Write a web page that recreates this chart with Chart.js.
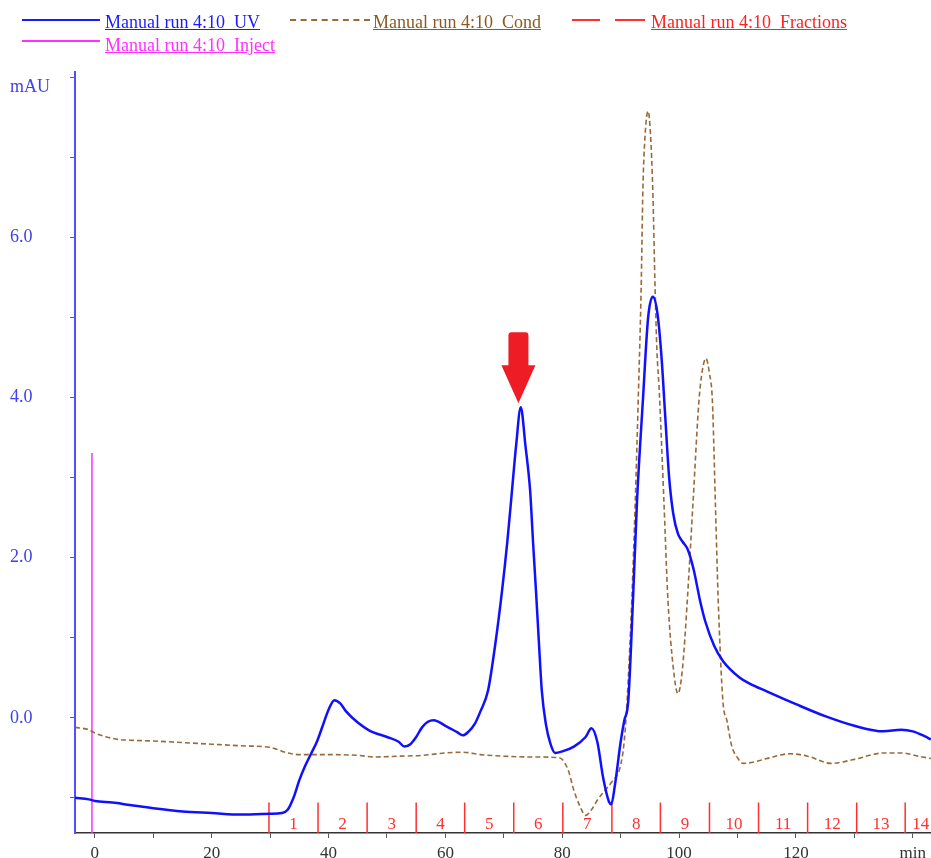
<!DOCTYPE html>
<html lang="en">
<head>
    <meta charset="UTF-8">
    <title>Manual run 4:10</title>
    <script src="https://cdn.jsdelivr.net/npm/chart.js"></script>
    <style>
        body { margin: 0; background: #fff; }
        .wrap { position: relative; width: 931px; height: 858px; overflow: hidden; }
        #chart { position: absolute; left: 0; top: 0; }
        .lg { position: absolute; font-family: "Liberation Serif", serif; font-size: 18px; text-decoration: underline; white-space: nowrap; line-height: 1; }
        .sw { position: absolute; height: 0; }
    </style>
</head>
<body>
<div class="wrap">
    <canvas id="chart" width="931" height="858"></canvas>

    <div class="sw" style="left:22px;top:19px;width:78px;border-top:2px solid #1a1aff"></div>
    <div class="lg" style="left:105px;top:13px;color:#1a1aff">Manual run 4:10_UV</div>

    <div class="sw" style="left:290px;top:19px;width:80px;border-top:2px dashed #9a6a3a"></div>
    <div class="lg" style="left:373px;top:13px;color:#8a5a22">Manual run 4:10_Cond</div>

    <div class="sw" style="left:572px;top:19px;width:28px;border-top:2px solid #ff3030"></div>
    <div class="sw" style="left:615px;top:19px;width:30px;border-top:2px solid #ff3030"></div>
    <div class="lg" style="left:651px;top:13px;color:#ff2020">Manual run 4:10_Fractions</div>

    <div class="sw" style="left:22px;top:40px;width:78px;border-top:2px solid #ff30ff"></div>
    <div class="lg" style="left:105px;top:36px;color:#ff30ff">Manual run 4:10_Inject</div>
</div>

<script>
// UV trace (min, mAU)
const uvTime = [-3.4, -1, 0, 3, 6, 10, 15, 20, 25, 30, 32, 33, 34, 35, 36, 37, 38, 39, 40, 41, 42, 43, 45, 47, 50, 52, 53, 54, 55, 56, 57, 58, 60, 62, 63, 64, 65, 66, 67.3, 68.5, 69.7, 70.6, 71.4, 72.1, 72.9, 73.7, 74.5, 75.0, 75.5, 76.0, 76.5, 77.2, 78, 78.8, 80, 82, 84, 85, 86, 87, 88, 88.4, 89, 90, 90.6, 91.3, 92.1, 92.8, 93.8, 94.7, 95.5, 96.3, 97, 97.6, 98.3, 99, 99.8, 100.6, 101.5, 102.5, 103.6, 104.5, 106, 107.5, 110.4, 112, 115, 120, 125, 130, 135, 138, 140, 142, 143.1];
const uvValue = [-1.0, -1.02, -1.04, -1.06, -1.09, -1.13, -1.17, -1.19, -1.21, -1.2, -1.19, -1.15, -1.0, -0.78, -0.6, -0.45, -0.3, -0.1, 0.1, 0.22, 0.18, 0.08, -0.06, -0.16, -0.24, -0.3, -0.36, -0.33, -0.24, -0.12, -0.05, -0.03, -0.1, -0.18, -0.22, -0.17, -0.08, 0.08, 0.34, 0.9, 1.59, 2.2, 2.84, 3.4, 3.88, 3.4, 2.84, 2.2, 1.59, 0.95, 0.34, -0.08, -0.33, -0.44, -0.42, -0.36, -0.24, -0.13, -0.3, -0.75, -1.05, -1.08, -0.85, -0.3, -0.04, 0.21, 1.46, 2.71, 3.96, 5.0, 5.26, 5.05, 4.5, 3.8, 3.0, 2.55, 2.3, 2.2, 2.1, 1.85, 1.46, 1.2, 0.9, 0.71, 0.5, 0.43, 0.33, 0.17, 0.02, -0.1, -0.17, -0.15, -0.17, -0.23, -0.27];

// Conductivity trace, drawn in the UV axis units
const condTime = [-3.4, -1, 0, 2, 4, 6, 10, 15, 20, 25, 30, 31, 33, 35, 40, 45, 48, 52, 56, 60, 63, 66, 70, 75, 79.5, 81, 82, 83, 84, 85, 86, 87.3, 88.5, 89.9, 90.6, 91.1, 91.9, 92.5, 93.0, 93.5, 93.8, 94.2, 94.7, 95.1, 95.5, 95.9, 96.2, 96.6, 97.4, 98.1, 99.0, 99.8, 100.6, 101.4, 102.4, 103.4, 104.0, 104.6, 105.2, 105.7, 106.2, 106.7, 107.5, 108.2, 109, 110, 111, 113, 115, 119, 122, 126, 130, 135, 138, 141, 143.1];
const condValue = [-0.12, -0.15, -0.19, -0.24, -0.27, -0.28, -0.29, -0.31, -0.33, -0.35, -0.37, -0.39, -0.44, -0.46, -0.46, -0.47, -0.49, -0.48, -0.47, -0.44, -0.43, -0.46, -0.48, -0.49, -0.5, -0.65, -0.91, -1.1, -1.22, -1.15, -1.03, -0.91, -0.8, -0.62, -0.3, 0.21, 1.46, 2.71, 3.96, 5.34, 6.59, 7.3, 7.58, 7.3, 6.59, 5.34, 4.6, 4.09, 2.71, 1.46, 0.63, 0.3, 0.63, 1.46, 2.71, 3.96, 4.35, 4.49, 4.3, 3.96, 2.71, 1.46, 0.21, -0.04, -0.35, -0.5, -0.57, -0.55, -0.51, -0.45, -0.48, -0.57, -0.52, -0.44, -0.44, -0.48, -0.51];

// Fraction boundaries (min) and their labels
const fracStart = [29.8, 38.2, 46.6, 55, 63.3, 71.7, 80.1, 88.5, 96.8, 105.2, 113.6, 122, 130.4, 138.7];
const fracEnd = 144;
const fracLabels = ['1', '2', '3', '4', '5', '6', '7', '8', '9', '10', '11', '12', '13', '14'];

// Injection mark
const injectTime = -0.5;
const injectTop = 3.31;

// Peak marked with the arrow
const arrowTime = 72.5;
const arrowTip = 3.93;

const xTicks = [0, 10, 20, 30, 40, 50, 60, 70, 80, 90, 100, 110, 120, 130, 140];
const yTicks = [-1, 0, 1, 2, 3, 4, 5, 6, 7, 7.88, 8];
const UNIT_TICK = 7.88; // "mAU" sits a little below the top tick

const X_MIN = -3.4, X_MAX = 143.1, Y_MIN = -1.44, Y_MAX = 8.07;
const FRAC_TOP = -1.06, FRAC_LABEL_Y = -1.33;

const uvData = uvTime.map((t, i) => ({ x: t, y: uvValue[i] }));
const condData = condTime.map((t, i) => ({ x: t, y: condValue[i] }));
const fracData = [];
fracStart.forEach(t => {
    fracData.push({ x: t, y: Y_MIN }, { x: t, y: FRAC_TOP }, { x: t, y: null });
});

const fractionText = {
    id: 'fractionText',
    afterDatasetsDraw(chart) {
        const { ctx, scales: { x, y } } = chart;
        ctx.save();
        ctx.fillStyle = '#ff3030';
        ctx.font = '17px "Liberation Serif", serif';
        ctx.textAlign = 'center';
        ctx.textBaseline = 'middle';
        fracStart.forEach((t, i) => {
            const end = i < fracStart.length - 1 ? fracStart[i + 1] : fracEnd;
            ctx.fillText(fracLabels[i], x.getPixelForValue((t + end) / 2), y.getPixelForValue(FRAC_LABEL_Y));
        });
        ctx.restore();
    }
};

const peakArrow = {
    id: 'peakArrow',
    afterDatasetsDraw(chart) {
        const { ctx, scales: { x, y } } = chart;
        const cx = x.getPixelForValue(arrowTime);
        const tip = y.getPixelForValue(arrowTip);
        ctx.save();
        ctx.fillStyle = '#ee1c25';
        ctx.beginPath();
        ctx.moveTo(cx, tip);
        ctx.lineTo(cx - 17, tip - 38);
        ctx.lineTo(cx - 10, tip - 38);
        ctx.lineTo(cx - 10, tip - 68);
        ctx.quadraticCurveTo(cx - 10, tip - 71, cx - 7, tip - 71);
        ctx.lineTo(cx + 7, tip - 71);
        ctx.quadraticCurveTo(cx + 10, tip - 71, cx + 10, tip - 68);
        ctx.lineTo(cx + 10, tip - 38);
        ctx.lineTo(cx + 17, tip - 38);
        ctx.closePath();
        ctx.fill();
        ctx.restore();
    }
};

new Chart(document.getElementById('chart'), {
    type: 'line',
    data: {
        datasets: [
            { label: 'UV', data: uvData, borderColor: '#1010ff', borderWidth: 2.5, cubicInterpolationMode: 'monotone', order: 1 },
            { label: 'Cond', data: condData, borderColor: '#9a6a3a', borderWidth: 1.6, borderDash: [5, 3], cubicInterpolationMode: 'monotone', order: 2 },
            { label: 'Fractions', data: fracData, borderColor: '#ff3030', borderWidth: 1.5, spanGaps: false, order: 3 },
            { label: 'Inject', data: [{ x: injectTime, y: Y_MIN }, { x: injectTime, y: injectTop }], borderColor: '#ff30ff', borderWidth: 1.5, order: 4 }
        ]
    },
    options: {
        responsive: false,
        animation: false,
        elements: { point: { radius: 0 } },
        layout: { padding: { top: 72, left: 10, right: 0, bottom: 0 } },
        plugins: { legend: { display: false }, tooltip: { enabled: false } },
        scales: {
            x: {
                type: 'linear',
                min: X_MIN,
                max: X_MAX,
                afterBuildTicks: s => { s.ticks = xTicks.map(v => ({ value: v })); },
                afterFit: s => { s.height = 25; },
                ticks: {
                    autoSkip: false,
                    maxRotation: 0,
                    padding: 5,
                    color: '#333',
                    font: { family: '"Liberation Serif", serif', size: 17 },
                    callback: v => v === 140 ? 'min' : (v % 20 === 0 ? String(v) : '')
                },
                grid: { drawOnChartArea: false, drawTicks: true, tickLength: 5, tickColor: '#555' },
                border: { display: true, color: '#333', width: 1.5 }
            },
            y: {
                type: 'linear',
                min: Y_MIN,
                max: Y_MAX,
                afterBuildTicks: s => { s.ticks = yTicks.map(v => ({ value: v })); },
                afterFit: s => { s.width = 65; },
                ticks: {
                    autoSkip: false,
                    crossAlign: 'far',
                    color: '#4040ee',
                    font: { family: '"Liberation Serif", serif', size: 18 },
                    callback: v => v === UNIT_TICK ? 'mAU' : (v % 2 === 0 && v !== 8 ? v.toFixed(1) : '')
                },
                grid: {
                    drawOnChartArea: false,
                    drawTicks: true,
                    tickLength: 5,
                    tickColor: c => (c.tick && c.tick.value === UNIT_TICK) ? 'rgba(0,0,0,0)' : '#5050ff'
                },
                border: { display: true, color: '#5050ff', width: 2 }
            }
        }
    },
    plugins: [fractionText, peakArrow]
});
</script>
</body>
</html>
